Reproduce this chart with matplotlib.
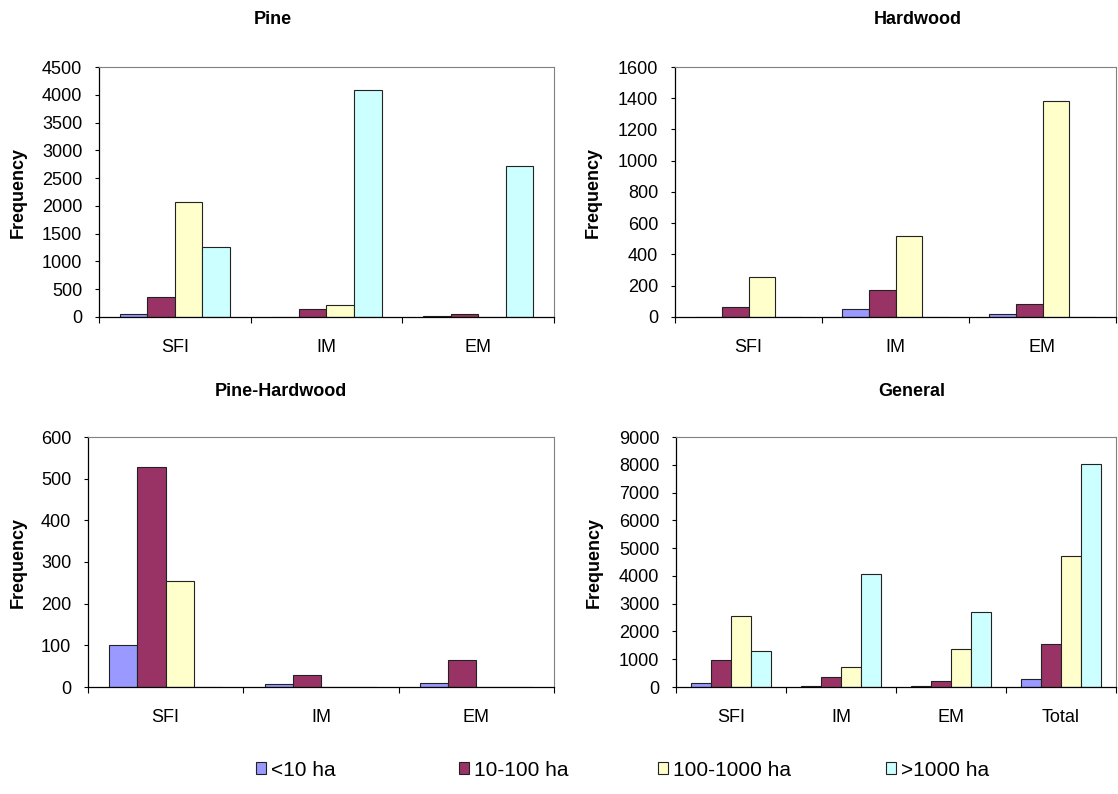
import matplotlib
matplotlib.use("Agg")
import matplotlib.pyplot as plt
import numpy as np
from matplotlib.patches import Patch

plt.rcParams['font.family'] = ['Liberation Sans', 'DejaVu Sans']

# size classes (legend) and bar colours
classes = ['<10 ha', '10-100 ha', '100-1000 ha', '>1000 ha']
colors = ['#9999FF', '#993366', '#FFFFCC', '#CCFFFF']

cats = ['SFI', 'IM', 'EM']
cats_general = ['SFI', 'IM', 'EM', 'Total']

# Pine
pine_lt10 = [55, 0, 15]
pine_10_100 = [360, 150, 60]
pine_100_1000 = [2070, 210, 0]
pine_gt1000 = [1265, 4080, 2715]

# Hardwood
hard_lt10 = [0, 53, 19]
hard_10_100 = [66, 173, 83]
hard_100_1000 = [258, 516, 1380]
hard_gt1000 = [0, 0, 0]

# Pine-Hardwood
ph_lt10 = [100, 7, 10]
ph_10_100 = [528, 30, 65]
ph_100_1000 = [255, 0, 0]
ph_gt1000 = [0, 0, 0]

# General
gen_lt10 = [155, 40, 30, 300]
gen_10_100 = [970, 345, 205, 1545]
gen_100_1000 = [2550, 720, 1365, 4715]
gen_gt1000 = [1295, 4060, 2695, 8045]

W, H = 1118, 794
fig = plt.figure(figsize=(W / 100, H / 100), dpi=100)


def px_axes(left, top, right, bottom):
    return fig.add_axes([left / W, 1 - bottom / H, (right - left) / W, (bottom - top) / H])


def panel(ax, labels, series, ymax, ystep, title, title_xy, ylab_x):
    n = len(series)
    w = 1.0 / (n + 1.5)
    x = np.arange(len(labels))
    for i, vals in enumerate(series):
        ax.bar(x + (i - (n - 1) / 2) * w, vals, width=w, color=colors[i],
               edgecolor='#222222', linewidth=0.8, zorder=2)
    ax.set_xlim(-0.5, len(labels) - 0.5)
    ax.set_ylim(0, ymax)
    ax.set_yticks(np.arange(0, ymax + 1, ystep))
    ax.set_xticks(np.arange(len(labels) + 1) - 0.5)
    ax.set_xticklabels([])
    ax.set_xticks(x, minor=True)
    ax.set_xticklabels(labels, minor=True)
    ax.tick_params(axis='x', which='major', direction='out', length=4, width=0.8)
    ax.tick_params(axis='x', which='minor', length=0, pad=16, labelsize=13)
    ax.tick_params(axis='y', direction='out', length=3, width=0.8, pad=9, labelsize=13)
    for s in ['top', 'right']:
        ax.spines[s].set_color('#808080')
        ax.spines[s].set_linewidth(0.8)
    for s in ['left', 'bottom']:
        ax.spines[s].set_linewidth(0.9)
    ax.set_ylabel('Frequency', fontsize=13, fontweight='bold')
    ax.yaxis.set_label_coords(ylab_x, 0.5)
    fig.text(title_xy[0] / W, 1 - title_xy[1] / H, title, fontsize=13,
             fontweight='bold', ha='center', va='center')


ax1 = px_axes(99, 67, 554, 317)
panel(ax1, cats, [pine_lt10, pine_10_100, pine_100_1000, pine_gt1000],
      4500, 500, 'Pine', (273, 20), -0.158)

ax2 = px_axes(675, 67, 1116, 317)
panel(ax2, cats, [hard_lt10, hard_10_100, hard_100_1000, hard_gt1000],
      1600, 200, 'Hardwood', (918, 20), -0.165)

ax3 = px_axes(88, 437, 554, 687)
panel(ax3, cats, [ph_lt10, ph_10_100, ph_100_1000, ph_gt1000],
      600, 100, 'Pine-Hardwood', (281, 391), -0.131)

ax4 = px_axes(676, 437, 1116, 687)
panel(ax4, cats_general, [gen_lt10, gen_10_100, gen_100_1000, gen_gt1000],
      9000, 1000, 'General', (912, 391), -0.166)

# legend entries along the bottom
leg_x = [256, 459, 658, 886]
for name, c, lx in zip(classes, colors, leg_x):
    h = Patch(facecolor=c, edgecolor='#222222', linewidth=0.8, label=name)
    fig.legend(handles=[h], loc='center left', bbox_to_anchor=(lx / W, 1 - 770 / H),
               frameon=False, fontsize=15, handlelength=0.5, handleheight=0.5,
               handletextpad=0.2, borderpad=0, borderaxespad=0)

fig.savefig('out.png', dpi=100)
